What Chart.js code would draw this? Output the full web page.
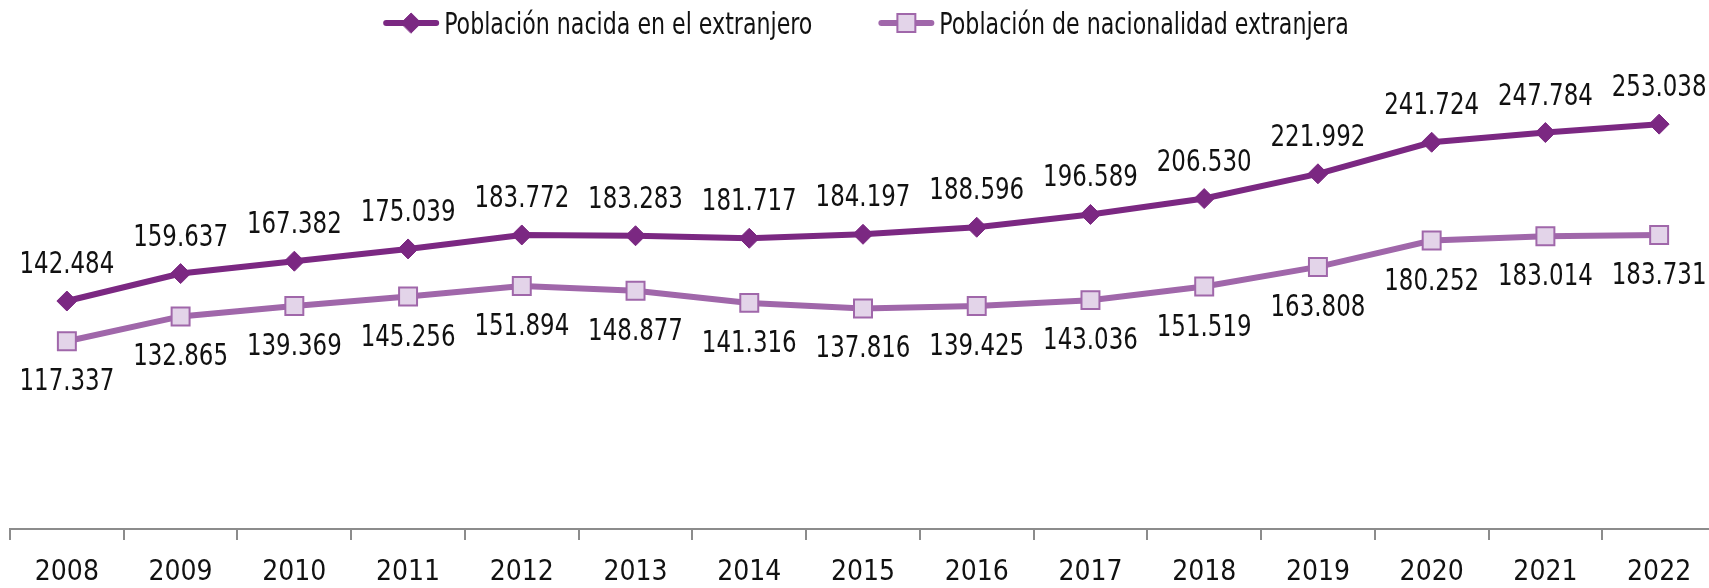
<!DOCTYPE html>
<html lang="es">
<head>
<meta charset="utf-8">
<title>Población extranjera 2008-2022</title>
<script src="https://cdn.jsdelivr.net/npm/chart.js@4.4.1/dist/chart.umd.min.js"></script>
<style>
  html, body { margin: 0; padding: 0; background: #fff; overflow: hidden; }
  .chart-wrap { position: relative; width: 1716px; height: 605px; }
</style>
</head>
<body>
<div class="chart-wrap"><canvas id="chartPoblacion"></canvas></div>
<script>
const YEARS = [
  "2008", "2009", "2010", "2011", "2012", "2013", "2014", "2015",
  "2016", "2017", "2018", "2019", "2020", "2021", "2022"
];

const NACIDA_EXTRANJERO = [
  142484, 159637, 167382, 175039, 183772, 183283, 181717, 184197,
  188596, 196589, 206530, 221992, 241724, 247784, 253038
];

const NACIONALIDAD_EXTRANJERA = [
  117337, 132865, 139369, 145256, 151894, 148877, 141316, 137816,
  139425, 143036, 151519, 163808, 180252, 183014, 183731
];

const SERIES_NAMES = [
  "Población nacida en el extranjero",
  "Población de nacionalidad extranjera"
];

const COLORS = {
  nacida: "#7b2882",
  nacionalidad: "#a067aa",
  nacionalidadFill: "#e3d4e9",
  axis: "#8c8c8c",
  text: "#111111"
};

const FONT_FAMILY = "'Liberation Sans Narrow', 'DejaVu Sans Condensed', 'Arial Narrow', sans-serif";

function formatValue(n) {
  return String(n).replace(/\B(?=(\d{3})+(?!\d))/g, ".");
}

// the original uses a narrow typeface, squeeze the text a bit
function fillNarrow(ctx, text, x, y, squeeze) {
  ctx.save();
  ctx.translate(x, y);
  ctx.scale(squeeze, 1);
  ctx.fillText(text, 0, 0);
  ctx.restore();
}

// numbers over the first line, under the second one
const valueLabels = {
  id: "valueLabels",
  afterDatasetsDraw(chart) {
    const { ctx } = chart;
    ctx.save();
    ctx.font = `30px ${FONT_FAMILY}`;
    ctx.fillStyle = COLORS.text;
    ctx.textAlign = "center";
    ctx.textBaseline = "alphabetic";
    chart.data.datasets.forEach((ds, i) => {
      const below = i === 1;
      chart.getDatasetMeta(i).data.forEach((pt, j) => {
        fillNarrow(ctx, formatValue(ds.data[j]), pt.x, below ? pt.y + 49 : pt.y - 28, 0.85);
      });
    });
    ctx.restore();
  }
};

// legend with line + marker, like the original
const lineLegend = {
  id: "lineLegend",
  afterDraw(chart) {
    const { ctx, chartArea } = chart;
    const iconW = 56, textGap = 5, itemGap = 66, y = 23, squeeze = 0.82;
    ctx.save();
    ctx.font = `30px ${FONT_FAMILY}`;
    const widths = chart.data.datasets.map((ds) => iconW + textGap + ctx.measureText(ds.label).width * squeeze);
    const total = widths.reduce((a, b) => a + b, 0) + itemGap * (widths.length - 1);
    let x = (chartArea.left + chartArea.right) / 2 + 3 - total / 2;

    chart.data.datasets.forEach((ds, i) => {
      ctx.strokeStyle = ds.borderColor;
      ctx.lineWidth = 6;
      ctx.lineCap = "round";
      ctx.beginPath();
      ctx.moveTo(x + 3, y);
      ctx.lineTo(x + iconW - 3, y);
      ctx.stroke();

      ctx.fillStyle = ds.pointBackgroundColor;
      ctx.strokeStyle = ds.pointBorderColor;
      ctx.lineWidth = ds.pointBorderWidth;
      Chart.helpers.drawPoint(ctx, {
        pointStyle: ds.pointStyle,
        radius: ds.pointRadius,
        borderWidth: ds.pointBorderWidth,
        rotation: 0
      }, x + iconW / 2, y);

      ctx.fillStyle = COLORS.text;
      ctx.textAlign = "left";
      ctx.textBaseline = "alphabetic";
      fillNarrow(ctx, ds.label, x + iconW + textGap, 34, squeeze);
      x += widths[i] + itemGap;
    });
    ctx.restore();
  }
};

new Chart(document.getElementById("chartPoblacion"), {
  type: "line",
  data: {
    labels: YEARS,
    datasets: [
      {
        label: SERIES_NAMES[0],
        data: NACIDA_EXTRANJERO,
        borderColor: COLORS.nacida,
        borderWidth: 6,
        tension: 0,
        pointStyle: "rectRot",
        pointRadius: 10,
        pointBorderWidth: 1,
        pointBackgroundColor: COLORS.nacida,
        pointBorderColor: COLORS.nacida
      },
      {
        label: SERIES_NAMES[1],
        data: NACIONALIDAD_EXTRANJERA,
        borderColor: COLORS.nacionalidad,
        borderWidth: 6,
        tension: 0,
        pointStyle: "rect",
        pointRadius: 12.7,
        pointBorderWidth: 2,
        pointBackgroundColor: COLORS.nacionalidadFill,
        pointBorderColor: COLORS.nacionalidad
      }
    ]
  },
  options: {
    responsive: true,
    maintainAspectRatio: false,
    animation: false,
    layout: {
      autoPadding: false,
      padding: { top: 49, left: 10, right: 0, bottom: 0 }
    },
    plugins: {
      legend: { display: false },
      tooltip: { enabled: false }
    },
    scales: {
      x: {
        offset: true,
        grid: {
          offset: true,
          drawOnChartArea: false,
          drawTicks: true,
          tickLength: 11,
          color: COLORS.axis,
          lineWidth: 2
        },
        border: { display: true, color: COLORS.axis, width: 2 },
        ticks: {
          color: COLORS.text,
          font: { size: 28, family: FONT_FAMILY, lineHeight: 1 },
          padding: 18.5,
          maxRotation: 0,
          autoSkip: false
        }
      },
      y: {
        display: false,
        min: 0,
        max: 300000
      }
    }
  },
  plugins: [valueLabels, lineLegend]
});
</script>
</body>
</html>
